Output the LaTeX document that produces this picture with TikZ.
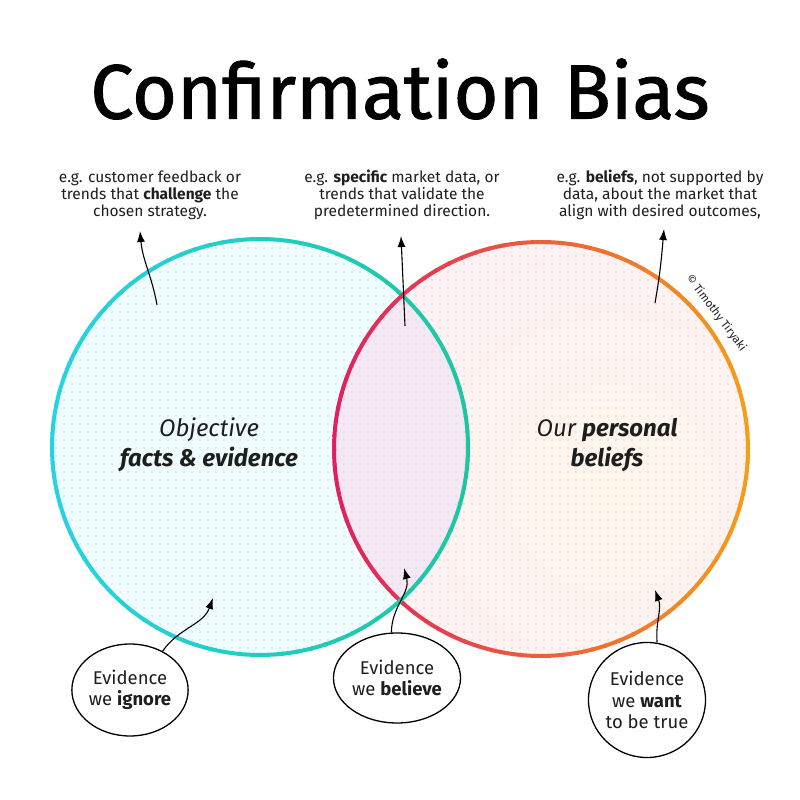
\documentclass[tikz,border=0pt]{standalone}
\usepackage{fontspec}
\setmainfont{Fira Sans}
\newfontfamily\titlefont[FakeBold=1.3]{Fira Sans}
\usetikzlibrary{arrows.meta,patterns.meta,shapes.geometric}
\definecolor{cyanL}{HTML}{27D3E2}
\definecolor{tealR}{HTML}{1CC7A0}
\definecolor{crimL}{HTML}{E0205F}
\definecolor{orngR}{HTML}{F59D1A}
\definecolor{inktxt}{HTML}{1E1E1E}
\tikzset{
  note/.style={align=center, text=inktxt, font=\fontsize{15.5}{17}\selectfont},
  circlabel/.style={align=center, text=inktxt, font=\fontsize{24}{30}\selectfont},
  bubble/.style={draw, line width=1.3pt, ellipse, align=center, inner sep=0pt,
     text=inktxt, font=\fontsize{18.5}{21.5}\selectfont},
  pointer/.style={-{Latex[length=11pt,width=8pt]}, line width=1.1pt},
}
\begin{document}
\begin{tikzpicture}[x=1pt,y=1pt]  % ------ Confirmation bias -----------
\useasboundingbox (0,0) rectangle (800,800);
    \node (title) at (400,711) {\titlefont\fontsize{77}{80}\selectfont Confirmation Bias};
    \coordinate (L) at (260,353);
    \coordinate (R) at (541,351);
    % fills
    \fill[cyanL!7] (L) circle (208);
    \begin{scope}
      \clip (R) circle (207);
      \shade[inner color=orngR!9, outer color=crimL!6] (R) ++(70,-40) circle (290);
    \end{scope}
    \begin{scope}
      \clip (L) circle (208);
      \fill[violet!9] (R) circle (207);
    \end{scope}
    \fill[pattern={Dots[distance=8pt,radius=1.1pt]}, pattern color=cyanL!28] (L) circle (208);
    \fill[pattern={Dots[distance=8pt,radius=1.1pt]}, pattern color=crimL!20] (R) circle (207);
    % rims
    \foreach \a in {0,4,...,356}{
      \pgfmathsetmacro\p{50+50*cos(\a+2)}
      \draw[line width=4pt, tealR!\p!cyanL] (L) ++(\a:208) arc[start angle=\a, end angle=\a+4.6, radius=208];
      \draw[line width=4pt, orngR!\p!crimL] (R) ++(\a:207) arc[start angle=\a, end angle=\a+4.6, radius=207];
    }
    \node[circlabel] (facts) at (209,355) {\textit{Objective}\\\textbf{\textit{facts \& evidence}}};
    \node[circlabel] (beliefs) at (607,355) {\textit{Our \textbf{personal}}\\\textbf{\textit{beliefs}}};
    \node[rotate=-53, text=inktxt, font=\fontsize{11.5}{12}\selectfont] (copy) at (716,487) {\textcopyright{} Timothy Tiryaki};
    % ------ examples above -----------
    \node[note] (ignoretxt) at (150,605) {e.g. customer feedback or\\trends that \textbf{challenge} the\\chosen strategy.};
    \node[note] (believetxt) at (402,605) {e.g. \textbf{specific} market data, or\\trends that validate the\\predetermined direction.};
    \node[note] (wanttxt) at (660,605) {e.g. \textbf{beliefs}, not supported by\\data, about the market that\\align with desired outcomes,};
    \coordinate (ignorefrom) at (157,495); \coordinate (ignoreto) at (140,569);
    \coordinate (believefrom) at (405,474); \coordinate (believeto) at (401,564);
    \coordinate (wantfrom) at (655,497); \coordinate (wantto) at (664,571);
    \draw[pointer] (ignorefrom) to[out=100,in=-85] (ignoreto);
    \draw[pointer] (believefrom) -- (believeto);
    \draw[pointer] (wantfrom) to[out=80,in=-95] (wantto);
    % ------ bubbles below -----------
    \node[bubble, minimum width=110pt, minimum height=92pt] (ignore) at (130,110) {Evidence\\we \textbf{ignore}};
    \node[bubble, minimum width=100pt, minimum height=90pt] (believe) at (397,122) {Evidence\\we \textbf{believe}};
    \node[bubble, minimum width=98pt, minimum height=115pt] (want) at (647,100) {Evidence\\we \textbf{want}\\to be true};
    \coordinate (ignorept) at (213,202);
    \coordinate (believept) at (404,232);
    \coordinate (wantpt) at (655,210);
    \draw[pointer] (ignore.50) to[out=55,in=-110] (ignorept);
    \draw[pointer] (believe.97) to[out=90,in=-75] (believept);
    \draw[pointer] (want.80) to[out=95,in=-70] (wantpt);
\end{tikzpicture}
\end{document}
